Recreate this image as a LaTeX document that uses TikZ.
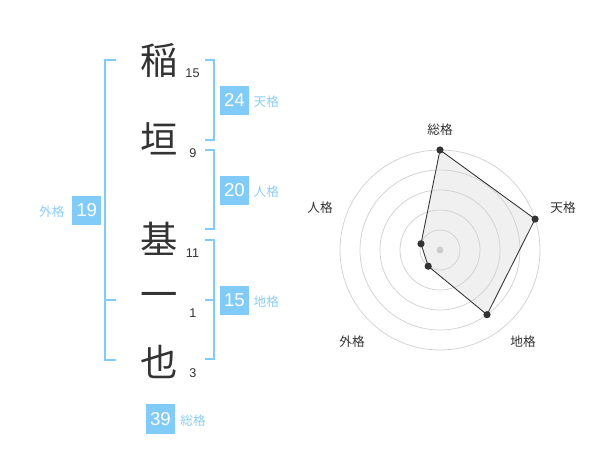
\documentclass[tikz,border=0pt]{standalone}
\usepackage{fontspec}
\setmainfont{Liberation Sans}
\newfontfamily\jpfont{Noto Sans CJK JP}
\usepackage{tikz}
\usetikzlibrary{positioning}

\definecolor{kakublue}{RGB}{128,203,248}
\definecolor{kakutext}{RGB}{140,205,245}
\definecolor{moji}{RGB}{51,51,51}
\definecolor{enline}{RGB}{212,212,212}
\definecolor{chartfill}{RGB}{240,240,240}
\definecolor{chuushiniro}{RGB}{204,204,204}

\begin{document}
\begin{tikzpicture}[x=0.75pt, y=-0.75pt,
    kanji/.style={font=\jpfont\fontsize{28pt}{30pt}\selectfont, text=moji, inner sep=0pt},
    kakusu/.style={font=\fontsize{9.5pt}{11pt}\selectfont, text=moji, inner sep=0pt},
    kakubox/.style={fill=kakublue, text=white, font=\fontsize{14pt}{16pt}\selectfont, minimum width=21.5pt, minimum height=22pt, inner sep=0pt},
    kakuname/.style={font=\jpfont\fontsize{9.5pt}{11pt}\selectfont, text=kakutext, inner sep=0pt},
    kakko/.style={draw=kakublue, line width=1.25pt},
    jiku/.style={font=\jpfont\fontsize{9.5pt}{11pt}\selectfont, text=moji, inner sep=0pt},
    en/.style={draw=enline, line width=0.6pt}]
        % 範囲
        \useasboundingbox (0,0) rectangle (600,470);

        % 名前
        \node[kanji] (ine) at (159,61) {稲};
        \node[kanji] (kaki) at (159,139) {垣};
        \node[kanji] (moto) at (159,239) {基};
        \node[kanji] (ichi) at (159,300) {一};
        \node[kanji] (nari) at (159,362) {也};

        % 画数
        \node[kakusu] (ine-n) at (192.5,73) {15};
        \node[kakusu] (kaki-n) at (193,153) {9};
        \node[kakusu] (moto-n) at (192.5,253) {11};
        \node[kakusu] (ichi-n) at (193,313) {1};
        \node[kakusu] (nari-n) at (193,373) {3};

        % 括弧
        \coordinate (ten1) at (205,60);
        \coordinate (ten2) at (205,140);
        \draw[kakko] (ten1) -- ++(9,0) |- (ten2);
        \coordinate (jin1) at (205,150);
        \coordinate (jin2) at (205,229);
        \draw[kakko] (jin1) -- ++(9,0) |- (jin2);
        \coordinate (chi1) at (205,240);
        \coordinate (chi2) at (205,359);
        \coordinate (chi3) at (205,300);
        \draw[kakko] (chi1) -- ++(9,0) |- (chi2);
        \draw[kakko] (chi3) -- ++(9,0);
        \coordinate (gai1) at (116,60);
        \coordinate (gai2) at (116,360);
        \coordinate (gai3) at (116,300);
        \draw[kakko] (gai1) -- ++(-11,0) |- (gai2);
        \draw[kakko] (gai3) -- ++(-11,0);

        % 格
        \node[kakubox] (ten) at (234.5,100.3) {24};
        \node[kakuname, base right=3.2pt of ten] (ten-l) {天格};
        \node[kakubox] (jin) at (234.5,190.3) {20};
        \node[kakuname, base right=3.2pt of jin] (jin-l) {人格};
        \node[kakubox] (chi) at (234.5,300.3) {15};
        \node[kakuname, base right=3.2pt of chi] (chi-l) {地格};
        \node[kakubox] (gai) at (86.7,210.4) {19};
        \node[kakuname, base left=5.5pt of gai] (gai-l) {外格};
        \node[kakubox] (sou) at (160.5,419) {39};
        \node[kakuname, base right=3.8pt of sou] (sou-l) {総格};

        % レーダーチャート
        \coordinate (chuushin) at (440,250);
        \coordinate (sou-p) at (440,150);
        \coordinate (ten-p) at (535.1,219.1);
        \coordinate (chi-p) at (487,314.7);
        \coordinate (gai-p) at (428.2,266.2);
        \coordinate (jin-p) at (421,243.8);
        \fill[chartfill] (sou-p) -- (ten-p) -- (chi-p) -- (gai-p) -- (jin-p) -- cycle;

        \draw[en] (chuushin) circle[radius=15pt];
        \draw[en] (chuushin) circle[radius=30pt];
        \draw[en] (chuushin) circle[radius=45pt];
        \draw[en] (chuushin) circle[radius=60pt];
        \draw[en] (chuushin) circle[radius=75pt];
        \fill[chuushiniro] (chuushin) circle[radius=2.6pt];

        \draw[moji, line width=0.65pt] (sou-p) -- (ten-p) -- (chi-p) -- (gai-p) -- (jin-p) -- cycle;
        \fill[moji] (sou-p) circle[radius=2.7pt];
        \fill[moji] (ten-p) circle[radius=2.7pt];
        \fill[moji] (chi-p) circle[radius=2.7pt];
        \fill[moji] (gai-p) circle[radius=2.7pt];
        \fill[moji] (jin-p) circle[radius=2.7pt];

        % 軸の名前
        \node[jiku] (sou-j) at (440,130) {総格};
        \node[jiku] (ten-j) at (563,208) {天格};
        \node[jiku] (chi-j) at (523,342) {地格};
        \node[jiku] (gai-j) at (352,342) {外格};
        \node[jiku] (jin-j) at (320,208) {人格};
\end{tikzpicture}
\end{document}
